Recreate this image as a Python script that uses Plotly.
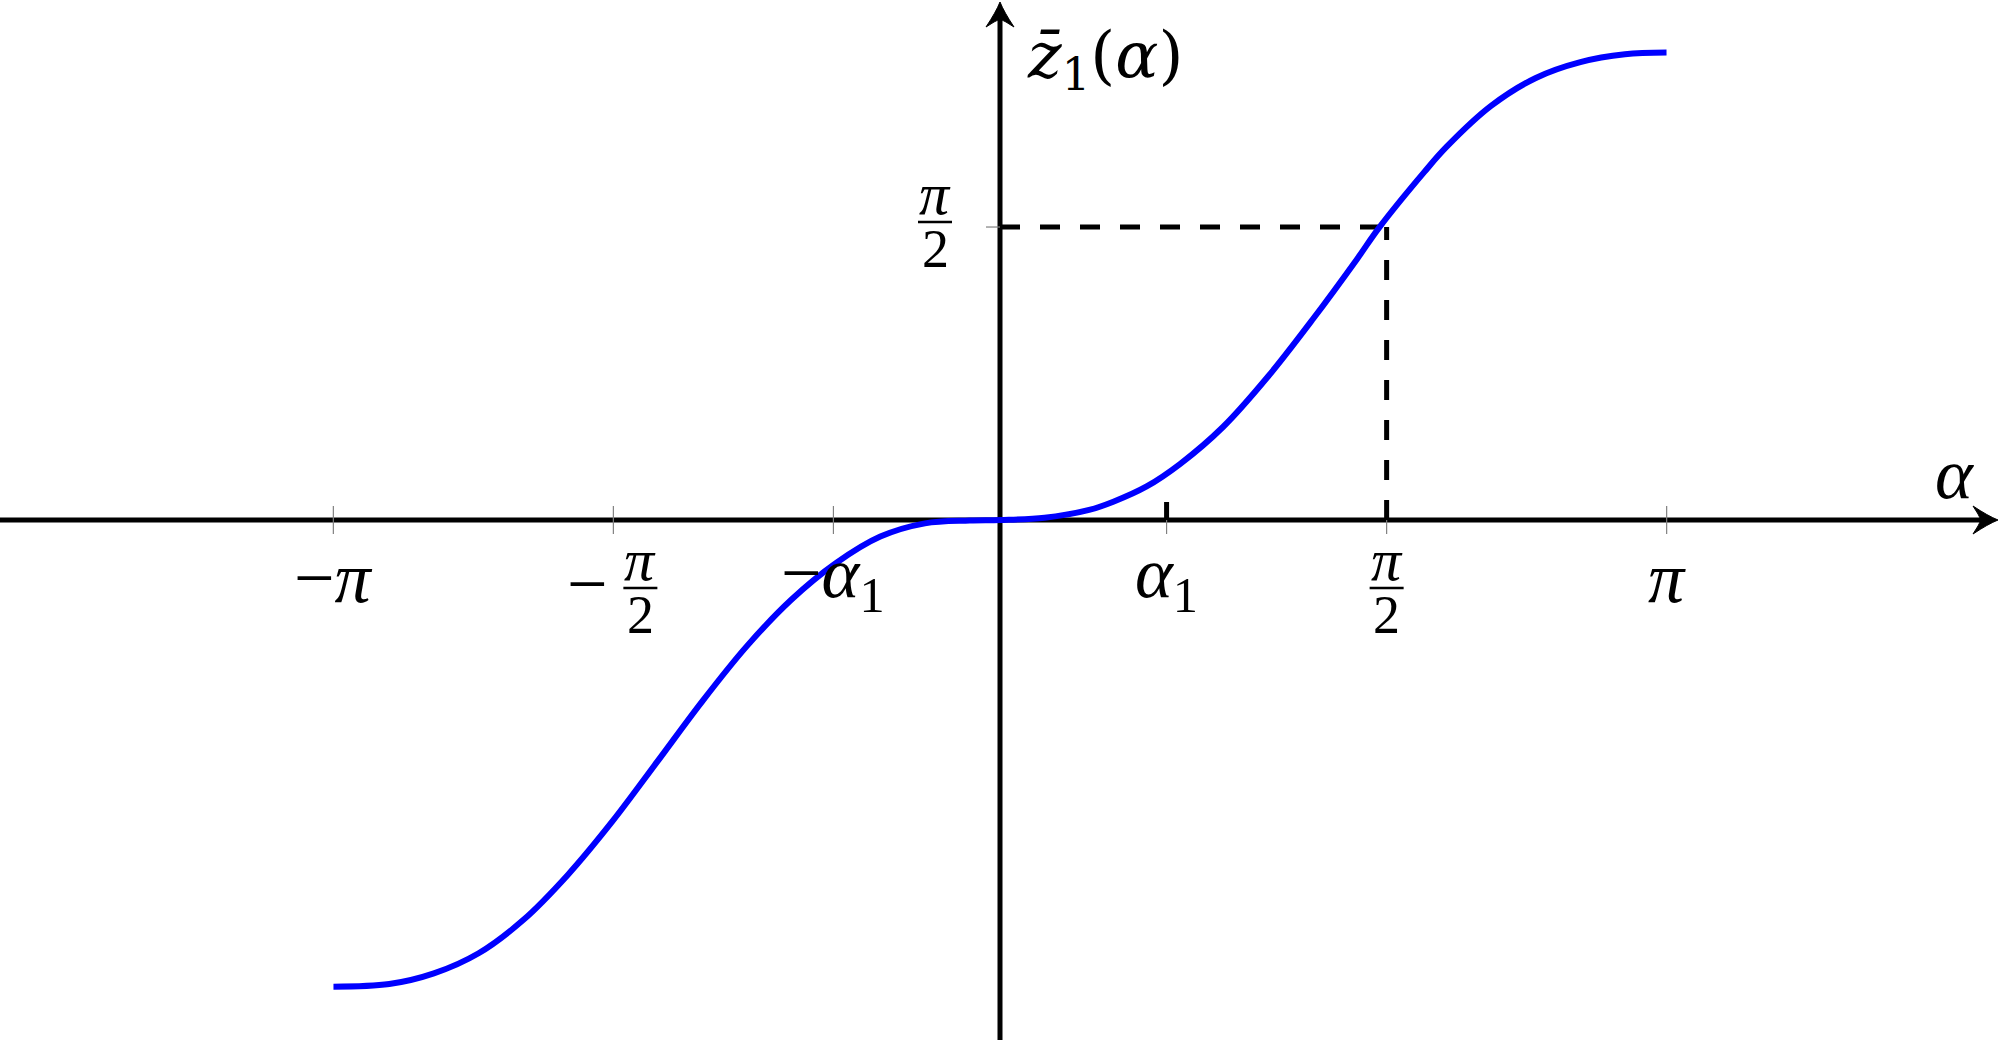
import plotly.graph_objects as go

# curve z1(alpha), negative branch then positive branch
alpha = [-3.141, -2.878, -2.668, -2.457, -2.247, -2.037, -1.826, -1.616, -1.405, -1.195,
         -0.985, -0.774, -0.564, -0.354, -0.143, 0.0, 0.21, 0.42, 0.534, 0.691,
         0.848, 1.052, 1.262, 1.473, 1.683, 1.785, 1.999, 2.104, 2.314, 2.525,
         2.735, 2.945, 3.141]
z1 = [-2.502, -2.488, -2.431, -2.323, -2.145, -1.903, -1.615, -1.297, -0.975, -0.679,
      -0.429, -0.232, -0.089, -0.018, -0.003, 0.0, 0.012, 0.054, 0.098, 0.18,
      0.30, 0.50, 0.768, 1.075, 1.40, 1.565, 1.865, 2.0, 2.22, 2.37,
      2.455, 2.497, 2.506]

x_tick_vals = [-3.1416, -1.822, -0.785, 0.785, 1.822, 3.1416]
x_tick_text = ["−π", "−π/2", "−α1", "α1", "π/2", "π"]
y_tick_vals = [1.5708]
y_tick_text = ["π/2"]

# dashed guides meet here
guide_x = 1.822
guide_y = 1.5708
alpha1 = 0.785

X_MAX = 4.7125
Y_MAX = 2.788
FONT = dict(family="Liberation Serif", size=72, color="black")
NUM_FONT = dict(family="Liberation Serif", size=60, color="black")
DEN_FONT = dict(family="Liberation Serif", size=54, color="black")


def tex(s):
    s = s.replace("α1", "<i>α</i><sub>1</sub>")
    s = s.replace("π", "<i>π</i>")
    return s


fig = go.Figure()
fig.add_trace(go.Scatter(x=alpha, y=z1, mode="lines",
                         line=dict(color="#0000ff", width=6, shape="spline", smoothing=1.0),
                         hoverinfo="skip"))


def text_at(x, y, s, xs, ys, font=FONT):
    fig.add_annotation(x=x, y=y, xref="x", yref="y", text=tex(s), showarrow=False,
                       xshift=xs, yshift=ys, font=font, xanchor="center", yanchor="middle")


def put_label(x, y, s, xs, ys):
    # ys is the height of the fraction bar (or the text centre)
    if "/" not in s:
        text_at(x, y, s, xs, ys + 4)
        return
    if s.startswith("−"):
        text_at(x, y, "−", xs - 26, ys + 4)
        xs += 27
        s = s[1:]
    num, den = s.split("/")
    text_at(x, y, num, xs, ys + 28, NUM_FONT)
    text_at(x, y, den, xs, ys - 27, DEN_FONT)
    fig.add_shape(type="line", xref="x", yref="y", xsizemode="pixel", ysizemode="pixel",
                  xanchor=x, yanchor=y, x0=xs - 17, x1=xs + 17, y0=ys, y1=ys,
                  line=dict(color="black", width=2.5))


# axis lines (under the curve)
fig.add_shape(type="line", xref="x", yref="y", x0=-X_MAX, x1=X_MAX - 0.05, y0=0, y1=0,
              layer="below", line=dict(color="black", width=5))
fig.add_shape(type="line", xref="x", yref="y", x0=0, x1=0, y0=-Y_MAX, y1=Y_MAX - 0.05,
              layer="below", line=dict(color="black", width=5))

# stealth arrow heads, drawn in pixels around the axis tips
fig.add_shape(type="path", xref="x", yref="y", xsizemode="pixel", ysizemode="pixel",
              xanchor=X_MAX, yanchor=0,
              path="M-2,0 Q-12,4 -27,14 Q-21,5 -19,0 Q-21,-5 -27,-14 Q-12,-4 -2,0 Z",
              fillcolor="black", line=dict(color="black", width=1))
fig.add_shape(type="path", xref="x", yref="y", xsizemode="pixel", ysizemode="pixel",
              xanchor=0, yanchor=Y_MAX,
              path="M0,-2 Q4,-12 14,-27 Q5,-21 0,-19 Q-5,-21 -14,-27 Q-4,-12 0,-2 Z",
              fillcolor="black", line=dict(color="black", width=1))

# ticks on the axes
for v in x_tick_vals:
    fig.add_shape(type="line", xref="x", yref="y", ysizemode="pixel", yanchor=0,
                  x0=v, x1=v, y0=-14, y1=14, layer="below",
                  line=dict(color="#808080", width=1.2))
for v in y_tick_vals:
    fig.add_shape(type="line", xref="x", yref="y", xsizemode="pixel", xanchor=0,
                  x0=-14, x1=14, y0=v, y1=v, layer="below",
                  line=dict(color="#808080", width=1.2))

# dashed guides and the alpha1 mark
fig.add_shape(type="line", xref="x", yref="y", x0=0, x1=guide_x, y0=guide_y, y1=guide_y,
              layer="below", line=dict(color="black", width=5, dash="20px,20px"))
fig.add_shape(type="line", xref="x", yref="y", x0=guide_x, x1=guide_x, y0=0, y1=guide_y,
              layer="below", line=dict(color="black", width=5, dash="20px,20px"))
fig.add_shape(type="line", xref="x", yref="y", ysizemode="pixel", yanchor=0,
              x0=alpha1, x1=alpha1, y0=0, y1=18, line=dict(color="black", width=5))

for v, s in zip(x_tick_vals, x_tick_text):
    ys = -68 if "/" in s else -62
    put_label(v, 0, s, 0, ys)
for v, s in zip(y_tick_vals, y_tick_text):
    put_label(0, v, s, -65, 5)

# axis names
fig.add_annotation(x=4.497, y=0.245, xref="x", yref="y", text="<i>α</i>", showarrow=False,
                   font=FONT, xanchor="center", yanchor="middle")
fig.add_annotation(x=0.12, y=2.47, xref="x", yref="y",
                   text="<i>z̄</i><sub>1</sub>(<i>α</i>)", showarrow=False,
                   font=dict(family="DejaVu Serif", size=64, color="black"),
                   xanchor="left", yanchor="middle")

axis_style = dict(showgrid=False, showticklabels=False, ticks="", showline=False,
                  zeroline=False, fixedrange=True)
fig.update_layout(
    width=2000, height=1040,
    margin=dict(l=0, r=0, t=0, b=0),
    plot_bgcolor="white", paper_bgcolor="white",
    showlegend=False,
    xaxis=dict(range=[-X_MAX, X_MAX], **axis_style),
    yaxis=dict(range=[-Y_MAX, Y_MAX], **axis_style),
)

fig.write_html("out.html", config={"displayModeBar": False},
               post_script="document.body.style.margin='0';document.body.style.overflow='hidden';")
